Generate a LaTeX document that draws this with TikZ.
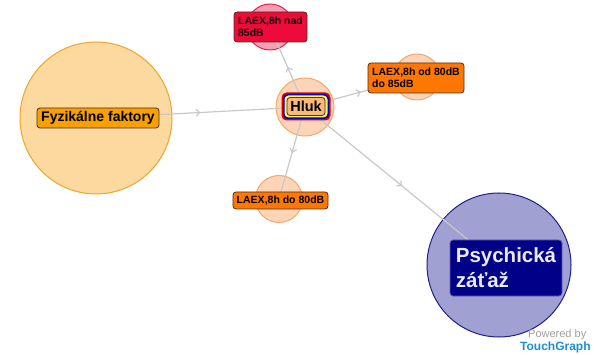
\documentclass[tikz,border=0pt]{standalone}
\usepackage{fontspec}
\setmainfont{Liberation Sans}
\usetikzlibrary{arrows.meta,decorations.markings}
\definecolor{edgegray}{HTML}{C8C8C8}
\definecolor{fyzfill}{HTML}{FBD99F}
\definecolor{fyzdraw}{HTML}{F0A52A}
\definecolor{fyzbox}{HTML}{F7A000}
\definecolor{hlukfill}{HTML}{FCD5B9}
\definecolor{hlukdraw}{HTML}{F5A66A}
\definecolor{hlukbox}{HTML}{F9B87C}
\definecolor{nadfill}{HTML}{F5A0B2}
\definecolor{naddraw}{HTML}{E8204A}
\definecolor{nadbox}{HTML}{EE0A3A}
\definecolor{odbox}{HTML}{FF7700}
\definecolor{psyfill}{HTML}{A0A0D2}
\definecolor{psydraw}{HTML}{202088}
\definecolor{psybox}{HTML}{000088}
\definecolor{psytext}{HTML}{EAEAF2}
\definecolor{boxdraw}{HTML}{4A3020}
\definecolor{tgblue}{HTML}{1E8FD0}
\begin{document}
\begin{tikzpicture}[x=1pt,y=-1pt,
  circ/.style={circle,inner sep=0pt,minimum size=#1,line width=1pt},
  link/.style={draw=edgegray,line width=1.2pt,postaction={decorate},
    decoration={markings,mark=at position 0.5 with {\arrow[edgegray]{Straight Barb[length=3.5pt,width=7pt]}}}},
  lbox/.style={rounded corners=3pt,draw=boxdraw,line width=0.8pt,inner ysep=0pt,inner xsep=0pt,font=\bfseries}]
\useasboundingbox (0,0) rectangle (594,355);
\fill[white] (0,0) rectangle (594,355);
% circles
\node[circ=152pt,fill=fyzfill,draw=fyzdraw] (fyz) at (96,118) {};
\node[circ=58pt,fill=hlukfill,draw=hlukdraw] (hluk) at (305,107) {};
\node[circ=46pt,fill=nadfill,draw=naddraw] (nad) at (270,27) {};
\node[circ=46pt,fill=hlukfill,draw=hlukdraw] (od) at (417,77) {};
\node[circ=47pt,fill=hlukfill,draw=hlukdraw] (do) at (279,199) {};
\node[circ=144pt,fill=psyfill,draw=psydraw] (psy) at (499,265) {};
% connectors
\draw[link] (fyz.center) -- (hluk.center);
\draw[link] (hluk.center) -- (nad.center);
\draw[link] (hluk.center) -- (od.center);
\draw[link] (hluk.center) -- (do.center);
\draw[link] (hluk.center) -- (psy.center);
% boxes
\node[lbox,fill=fyzbox,minimum width=122pt,minimum height=20pt,font=\bfseries\fontsize{14}{16}\selectfont] (fyzb) at (98,118) {Fyzikálne faktory};
\node[rounded corners=5pt,fill=red!85!black,minimum width=49pt,minimum height=28pt,inner sep=0pt] (hr) at (306,106.5) {};
\node[rounded corners=4.5pt,fill=blue!80!black,minimum width=46pt,minimum height=25pt,inner sep=0pt] (hb) at (306,106.5) {};
\node[rounded corners=4pt,fill=yellow!70,minimum width=43pt,minimum height=22pt,inner sep=0pt] (hy) at (306,106.5) {};
\node[lbox,fill=hlukbox,minimum width=38pt,minimum height=18pt,font=\bfseries\fontsize{14.5}{16}\selectfont] (hlukb) at (306,106.5) {Hluk};
\node[lbox,fill=nadbox,minimum width=73pt,minimum height=30pt,align=left,font=\bfseries\fontsize{10.5}{12.5}\selectfont] (nadb) at (270.5,27) {LAEX,8h nad\\[-0.5pt]85dB\hspace{34pt}};
\node[lbox,fill=odbox,minimum width=96pt,minimum height=30pt,align=left,font=\bfseries\fontsize{10.5}{12.5}\selectfont] (odb) at (416,78) {LAEX,8h od 80dB\\[-0.5pt]do 85dB\hspace{40pt}};
\node[lbox,fill=odbox,minimum width=95pt,minimum height=17pt,font=\bfseries\fontsize{10.5}{12.5}\selectfont] (dob) at (280.5,200.5) {LAEX,8h do 80dB};
\node[lbox,draw=psydraw!70,fill=psybox,text=psytext,minimum width=112pt,minimum height=56pt,align=left,font=\bfseries\fontsize{20.5}{25}\selectfont] (psyb) at (506,268) {Psychická\\záťaž\hspace{40pt}};
% watermark
\node[anchor=west,inner sep=0pt,text=gray!75,font=\fontsize{11}{13}\selectfont] (pw) at (528,335) {Powered by};
\node[anchor=west,inner sep=0pt,text=tgblue,font=\bfseries\fontsize{12}{14}\selectfont] (tg) at (520,347.5) {TouchGraph};
\end{tikzpicture}
\end{document}
